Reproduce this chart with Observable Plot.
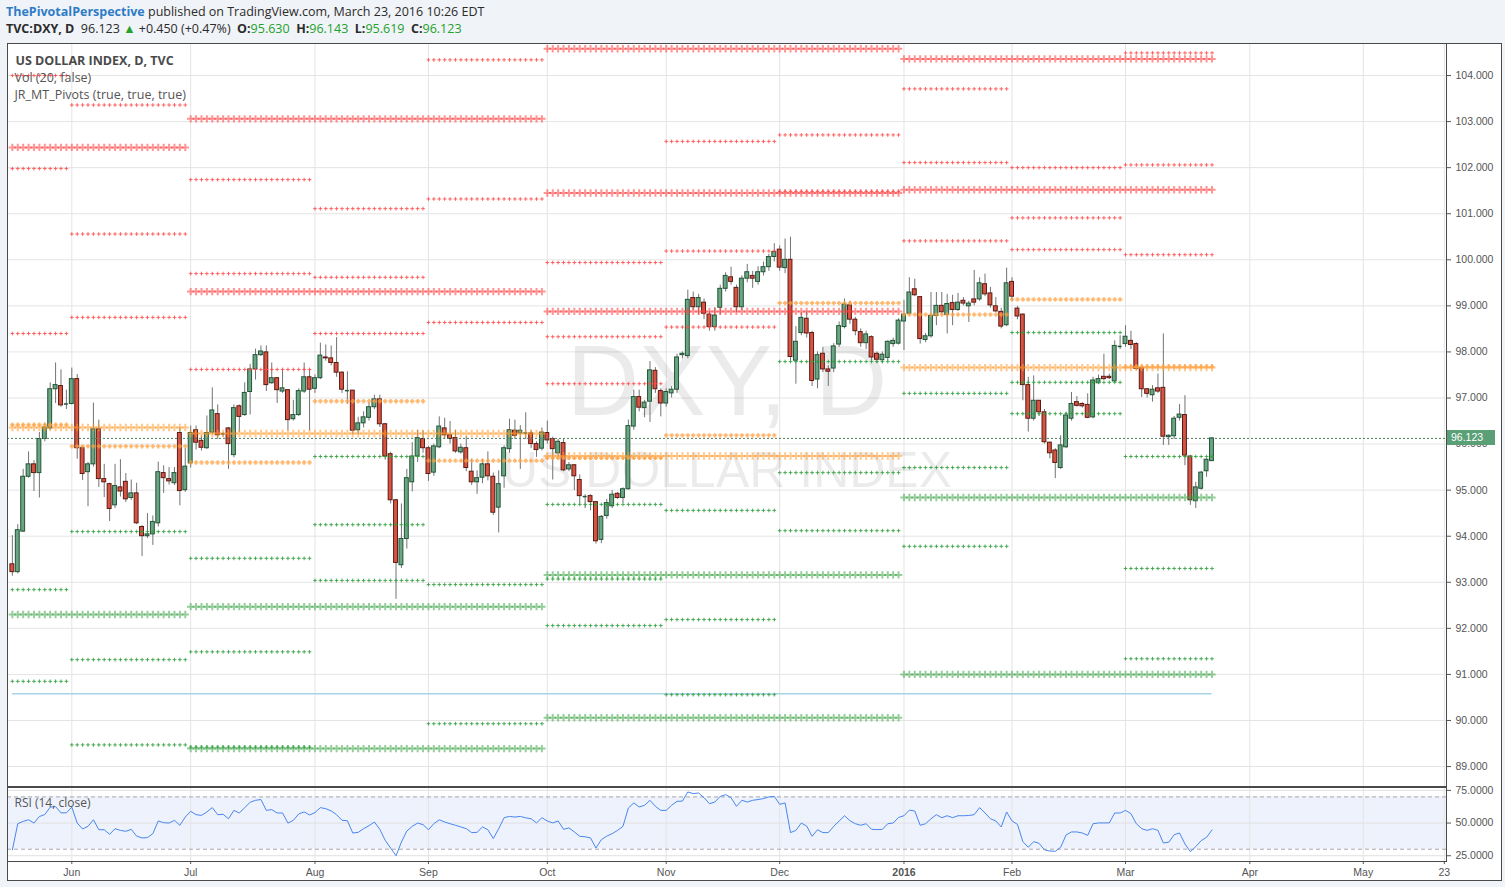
<!DOCTYPE html>
<html>
<head>
<meta charset="utf-8">
<script src="https://cdn.jsdelivr.net/npm/d3@7"></script>
<script src="https://cdn.jsdelivr.net/npm/@observablehq/plot@0.6"></script>
<style>
html,body{margin:0;padding:0;}
body{width:1505px;height:887px;background:#f0f3f7;position:relative;overflow:hidden;font-family:"Open Sans",sans-serif;color:#2b2b2b;}
.hdr{position:absolute;left:6px;font-size:12.5px;line-height:18px;white-space:nowrap;}
#h1{top:3px;}
#h2{top:20px;}
.author{color:#2e7cc7;font-weight:bold;}
.g{color:#22a12b;}
#box{position:absolute;left:7px;top:43px;width:1495px;height:838px;background:#fff;border:1px solid #4a4a4a;box-sizing:border-box;}
#main,#rsi{position:absolute;left:0;}
#main{top:0;}
#rsi{top:786px;}
#plabel{position:absolute;left:1447px;width:48px;height:15px;background:#5b9f77;color:#fff;font:10.5px "Liberation Sans",Arial,sans-serif;line-height:15px;padding-left:4px;box-sizing:border-box;}
</style>
</head>
<body>
<div class="hdr" id="h1"><span class="author">ThePivotalPerspective</span> published on TradingView.com, March 23, 2016 10:26 EDT</div>
<div class="hdr" id="h2"><b>TVC:DXY, D</b>&nbsp; 96.123 <span class="g">&#9650;</span> +0.450 (+0.47%) &nbsp;<b>O:</b><span class="g">95.630</span> &nbsp;<b>H:</b><span class="g">96.143</span> &nbsp;<b>L:</b><span class="g">95.619</span> &nbsp;<b>C:</b><span class="g">96.123</span></div>
<div id="box"></div>
<div id="main"></div>
<div id="rsi"></div>
<div id="plabel">96.123</div>
<script>
// ---------- DATA (daily bars, 15 May 2015 .. 23 Mar 2016, weekdays) ----------
const opens = [
93.39,93.22,94.10,95.29,95.56,95.37,96.11,96.34,97.19,97.26,
96.87,96.87,97.41,95.91,95.39,95.56,96.32,95.24,95.13,94.67,
95.06,95.18,94.83,94.93,94.20,94.00,94.04,94.28,95.37,95.24,
95.15,96.24,95.00,95.58,96.30,96.07,95.91,96.25,96.65,96.22,
96.34,95.76,96.82,96.63,97.13,97.62,97.93,97.99,97.32,97.43,
97.14,97.17,96.54,96.63,97.14,97.45,97.20,97.43,97.88,97.86,
97.76,97.55,97.16,97.16,96.30,96.45,96.57,96.80,96.97,96.43,
95.78,94.78,93.37,93.94,95.17,95.73,96.11,95.91,95.38,95.93,
96.34,96.19,96.13,95.82,95.91,95.40,95.17,95.27,95.56,95.29,
94.62,95.30,95.89,96.29,96.23,96.23,96.23,96.00,95.90,96.24,
96.11,95.80,96.02,95.45,95.54,95.22,94.85,94.87,94.74,93.92,
94.44,94.65,94.92,94.83,95.02,96.38,97.02,96.78,96.92,97.59,
97.15,96.88,97.10,97.18,97.93,97.91,99.17,98.97,99.07,98.81,
98.54,98.96,99.37,99.62,99.39,98.97,99.59,99.65,99.52,99.73,
99.84,100.06,100.22,99.82,100.00,97.81,98.41,98.72,98.41,97.40,
97.96,97.62,97.64,98.16,98.54,99.01,98.70,98.43,98.19,98.32,
97.96,97.82,97.87,98.17,98.18,98.66,98.83,99.36,99.19,98.26,
98.34,98.78,99.00,98.80,99.06,98.91,99.11,98.99,99.14,99.14,
99.47,99.27,98.99,98.87,98.58,99.52,98.94,98.81,97.28,96.55,
96.94,96.69,96.03,95.86,95.48,95.93,96.55,96.91,96.87,96.85,
96.58,97.32,97.46,97.46,97.36,98.11,98.17,98.24,98.17,97.65,
97.19,97.06,97.21,97.22,96.15,96.17,96.57,96.63,95.73,94.76,
95.03,95.41,95.630];
const highs = [
94.01,94.25,95.45,95.83,95.64,96.25,96.45,97.33,97.76,97.61,
97.17,97.65,97.51,95.95,95.60,96.89,96.52,95.56,95.15,95.56,
95.66,95.36,95.22,95.15,94.23,94.49,94.44,95.61,95.53,95.49,
95.49,96.36,95.90,96.39,96.39,96.18,96.61,97.22,96.85,96.25,
96.36,96.85,96.85,97.33,97.73,98.06,98.13,98.13,97.76,97.43,
97.61,97.17,96.95,97.20,97.76,97.61,97.50,98.19,98.15,98.13,
98.31,97.57,97.57,97.16,96.58,96.70,96.90,97.06,97.06,96.45,
95.82,94.80,94.70,95.45,96.03,96.30,96.29,95.95,96.00,96.59,
96.56,96.49,96.30,96.00,96.16,95.67,95.42,95.67,95.83,95.37,
95.42,95.96,96.54,96.52,96.40,96.68,96.30,96.05,96.35,96.50,
96.15,96.10,96.10,95.60,95.55,95.33,94.90,94.90,94.74,94.45,
94.80,94.99,94.95,95.05,96.52,97.17,97.17,96.95,97.79,97.66,
97.20,97.20,97.25,97.95,98.00,99.34,99.30,99.25,99.15,98.88,
98.96,99.45,99.72,99.84,99.45,99.65,99.90,99.75,99.85,99.95,
100.12,100.35,100.30,100.45,100.49,98.55,98.85,98.88,98.45,98.00,
98.10,97.70,98.18,98.65,99.15,99.10,98.75,98.50,98.45,98.35,
98.00,98.00,98.24,98.30,98.72,99.12,99.61,99.58,99.19,98.40,
99.29,99.29,99.29,99.25,99.23,99.27,99.18,99.10,99.77,99.61,
99.69,99.40,99.18,98.95,99.82,99.61,98.99,98.83,97.45,97.48,
96.94,96.75,96.04,95.90,96.18,96.69,97.12,97.03,96.90,97.09,
97.45,97.50,97.95,97.52,98.24,98.35,98.57,98.45,98.20,97.65,
97.20,97.27,97.52,98.39,96.20,96.60,96.86,97.05,95.75,95.17,
95.41,95.68,96.143];
const lows = [
93.13,93.18,94.08,95.26,94.97,94.83,96.05,96.30,96.88,96.80,
96.75,96.85,95.67,95.21,94.64,95.50,95.06,94.84,94.32,94.60,
94.85,94.73,94.78,94.25,93.56,93.95,93.80,94.20,94.93,95.11,
95.10,94.66,94.95,95.48,95.87,95.85,95.88,96.20,96.10,96.15,
95.45,95.70,96.25,96.60,96.63,97.39,97.90,97.14,97.30,96.88,
97.10,96.29,96.50,96.60,97.10,96.29,97.10,97.40,97.80,97.70,
97.45,97.10,96.86,96.20,96.20,96.35,96.50,96.75,96.36,95.65,
94.70,92.63,93.30,93.72,94.96,95.60,95.80,95.19,95.30,95.90,
96.10,96.00,95.80,95.78,95.40,95.10,94.91,95.14,95.20,94.45,
94.07,95.04,95.80,96.10,95.45,96.10,95.90,95.71,95.85,96.00,
95.22,95.70,95.40,95.40,94.99,94.70,94.60,94.55,93.83,93.84,
94.37,94.60,94.80,94.71,95.00,96.30,96.70,96.57,96.47,97.10,
96.59,96.80,97.00,97.10,97.85,97.85,98.90,98.80,98.70,98.45,
98.45,98.80,99.30,99.45,98.85,98.90,99.50,99.38,99.45,99.65,
99.75,99.95,99.75,99.70,97.80,97.30,98.35,98.30,97.25,97.20,
97.55,97.25,97.55,98.10,98.50,98.60,98.35,98.10,98.05,97.80,
97.75,97.75,97.80,98.10,98.15,98.03,98.80,99.20,98.17,98.20,
98.30,98.57,98.80,98.39,98.57,98.88,99.00,98.64,99.00,99.10,
99.20,98.95,98.85,98.50,98.55,99.10,98.70,96.94,96.26,96.50,
96.60,96.00,95.68,95.25,95.45,95.90,96.50,96.80,96.78,96.55,
96.55,97.30,97.38,97.40,97.33,98.05,98.10,98.05,97.60,97.01,
97.00,96.91,97.10,95.97,95.97,96.10,96.50,95.53,94.67,94.60,
95.00,95.28,95.619];
const closes = [
93.22,94.13,95.29,95.56,95.37,96.11,96.36,97.19,97.28,96.84,
96.87,97.41,95.91,95.35,95.56,96.32,95.24,95.17,94.59,95.09,
94.97,94.80,94.93,94.28,94.00,94.04,94.31,95.39,95.26,95.19,
95.37,94.98,95.51,96.24,96.03,95.92,96.24,96.73,96.19,96.22,
96.00,96.78,96.59,97.11,97.62,97.93,98.01,97.28,97.43,97.17,
97.21,96.52,96.63,97.15,97.45,97.18,97.43,97.92,97.86,97.76,
97.55,97.18,97.16,96.29,96.45,96.58,96.80,96.97,96.43,95.73,
94.78,93.42,93.94,95.26,95.73,96.13,95.91,95.35,95.95,96.38,
96.19,96.11,95.84,95.92,95.48,95.17,95.26,95.56,95.30,94.51,
95.13,95.91,96.30,96.18,96.29,96.24,96.00,95.87,96.25,96.08,
95.89,96.05,95.43,95.54,95.30,94.87,94.86,94.74,93.89,94.42,
94.72,94.90,94.83,95.02,96.39,97.02,96.79,96.90,97.60,97.19,
96.88,97.13,97.18,97.88,97.96,99.13,98.97,99.17,98.83,98.54,
98.79,99.37,99.65,99.52,98.97,99.59,99.73,99.59,99.73,99.84,
100.06,100.17,99.83,100.00,97.89,98.22,98.74,98.40,97.37,97.93,
97.62,97.57,98.12,98.56,99.03,98.70,98.45,98.19,98.38,97.88,
97.83,97.94,98.22,98.24,98.68,98.81,99.29,99.23,98.28,98.34,
98.78,99.00,98.86,99.04,98.91,99.07,99.05,99.05,99.07,99.49,
99.25,99.01,98.88,98.55,99.49,99.20,98.77,97.28,96.55,96.94,
96.69,96.04,95.80,95.59,95.97,96.62,96.87,96.83,96.82,96.57,
97.38,97.41,97.41,97.43,98.13,98.12,98.33,98.15,97.63,97.19,
97.09,97.18,97.14,96.16,96.18,96.55,96.64,95.75,94.78,95.06,
95.38,95.66,96.123];
const rsiValues = [
29.5,49.5,51.3,52.5,50.0,55.0,56.5,62.2,62.6,57.8,
57.8,62.2,50.0,45.5,47.5,52.5,44.9,44.9,41.4,45.7,
44.4,43.7,45.2,40.0,38.6,38.9,41.9,51.6,50.3,50.0,
52.1,48.3,54.6,59.0,56.4,55.9,58.5,61.8,56.4,56.7,
53.3,59.7,57.7,61.8,65.9,67.4,68.0,59.7,60.3,57.7,
57.7,50.0,52.1,57.0,58.5,56.2,58.0,61.8,61.0,59.3,
56.4,52.1,51.8,42.4,42.9,45.7,48.0,50.8,45.2,36.8,
30.9,25.0,35.5,43.9,47.5,50.0,48.8,44.9,49.5,52.5,
50.8,49.5,48.3,47.0,45.7,42.7,42.9,47.0,44.9,38.1,
45.7,54.1,55.1,54.6,55.1,54.0,53.3,50.1,54.1,51.6,
50.1,51.6,45.2,46.3,43.2,39.9,39.5,38.6,30.9,37.3,
40.0,41.9,44.4,47.5,61.5,65.4,62.3,63.6,67.4,62.8,
59.7,59.7,63.6,66.6,66.8,73.8,72.5,73.0,69.4,64.8,
66.1,70.4,71.7,69.4,62.8,67.4,66.1,67.4,68.0,68.7,
70.0,70.4,64.3,65.4,42.7,44.4,50.0,47.7,39.9,44.9,
42.7,42.7,47.5,51.5,55.6,51.8,49.5,48.3,49.5,45.2,
45.0,45.2,49.5,50.0,54.3,55.6,59.9,59.2,48.3,49.5,
53.3,56.4,54.1,55.6,54.1,55.6,55.6,55.8,56.4,61.8,
57.7,53.3,51.6,47.0,58.5,51.6,49.0,35.8,31.5,35.8,
34.5,29.5,28.6,28.4,31.5,40.9,43.2,43.2,42.4,40.6,
49.5,50.1,50.1,50.1,57.7,57.7,59.7,57.2,49.5,45.7,
44.4,45.7,44.4,34.8,35.3,41.1,42.4,34.0,28.1,32.0,
36.6,39.1,44.7];

// time axis ticks (bar index of first bar of each month) and labels
const monthTickBars = [11, 33, 56, 77, 99, 121, 142, 165, 185, 206, 229, 250, 265];
const monthTickLabels = ["Jun", "Jul", "Aug", "Sep", "Oct", "Nov", "Dec", "2016", "Feb", "Mar", "Apr", "May", "23"];
const priceTicks = [89, 90, 91, 92, 93, 94, 95, 96, 97, 98, 99, 100, 101, 102, 103, 104];
const rsiTicks = [25, 50, 75];
const rsiBands = [70, 30];

// monthly pivots (JR_MT_Pivots), May 2015 .. Mar 2016
const monthFirstBar = [0, 11, 33, 56, 77, 99, 121, 142, 165, 185, 206];
const monthLastBar = [10, 32, 55, 76, 98, 120, 141, 164, 184, 205, 222];
const monthResistance = [
  [104.00, 101.98, 98.40], [103.36, 100.56, 98.75], [101.74, 99.70, 97.62], [101.11, 99.62, 98.40],
  [104.34, 101.32, 98.64], [99.94, 98.33, 97.31], [102.57, 100.19, 98.54], [102.71, 101.48],
  [103.71, 102.11, 100.41], [102.00, 100.91, 100.22], [104.49, 102.06, 100.11]];
const monthPivot = [96.42, 95.95, 95.60, 96.93, 95.64, 95.70, 96.19, 99.06, 98.81, 99.14, 97.68];
const monthSupport = [
  [92.84, 90.85], [94.10, 91.32, 89.47], [93.52, 91.49, 89.42], [95.73, 94.25, 93.04],
  [92.95, 89.93], [94.69, 93.07, 92.06], [94.56, 92.19, 90.56], [97.79, 95.38, 94.12],
  [97.10, 95.49, 93.78], [98.42, 97.34, 96.66], [95.73, 93.30, 91.34]];

// quarterly pivots Q2 2015 .. Q1 2016
const quarterFirstBar = [0, 33, 99, 165];
const quarterLastBar = [32, 98, 164, 222];
const quarterResistance = [[102.44], [103.06, 99.31], [104.58, 101.45, 98.88], [104.36, 101.52]];
const quarterPivot = [96.36, 96.23, 95.74, 97.66];
const quarterSupport = [[92.30], [92.47, 89.39], [93.16, 90.06], [94.84, 91.00]];

const lastPrice = 96.123;
const volLevel = 90.58;

// ---------- BUILD ----------
const bars = opens.map((o, i) => ({i, o, h: highs[i], l: lows[i], c: closes[i]}));
const upBars = bars.filter(d => d.c > d.o + 0.015);
const downBars = bars.filter(d => d.c < d.o - 0.015);
const dojiBars = bars.filter(d => Math.abs(d.c - d.o) <= 0.015);
const rsiRows = rsiValues.map((v, i) => ({i, v}));

function levelPoints(firsts, lasts, levels) {
  const pts = [];
  firsts.forEach((f, k) => {
    const lv = Array.isArray(levels[k]) ? levels[k] : [levels[k]];
    lv.forEach(v => { if (v == null) return; for (let b = f; b <= lasts[k]; b++) pts.push({x: b, y: v}); });
  });
  return pts;
}
const mR = levelPoints(monthFirstBar, monthLastBar, monthResistance);
const mP = levelPoints(monthFirstBar, monthLastBar, monthPivot);
const mS = levelPoints(monthFirstBar, monthLastBar, monthSupport);
const qR = levelPoints(quarterFirstBar, quarterLastBar, quarterResistance);
const qP = levelPoints(quarterFirstBar, quarterLastBar, quarterPivot);
const qS = levelPoints(quarterFirstBar, quarterLastBar, quarterSupport);

const RED = "#ff3d3d", ORANGE = "#ff9a2e", GREEN = "#3fa548";
const xDomain = [-0.9, 265.4];
const axisFont = "Liberation Sans, Arial, sans-serif";
const half = 0.36;

const thick = (data, color) => Plot.dot(data, {x: "x", y: "y", symbol: "plus", r: 2.5, stroke: color, strokeWidth: 2, strokeOpacity: 0.55});
const thin = (data, color, r, w, op) => Plot.dot(data, {x: "x", y: "y", symbol: "plus", r, stroke: color, strokeWidth: w, strokeOpacity: op});

const main = Plot.plot({
  width: 1505, height: 786,
  marginLeft: 7, marginRight: 59, marginTop: 43, marginBottom: 0,
  x: {domain: xDomain, axis: null},
  y: {domain: [88.567, 104.695], axis: null, label: null},
  style: {background: "transparent", fontFamily: axisFont, fontSize: "10.5px", color: "#555", overflow: "visible"},
  marks: [
    Plot.gridY(priceTicks, {stroke: "#e4e4e4", strokeOpacity: 1}),
    Plot.gridX(monthTickBars, {stroke: "#e4e4e4", strokeOpacity: 1}),
    Plot.text(["DXY, D"], {frameAnchor: "middle", dy: -32, text: d => d, fontSize: 100, fontFamily: axisFont, fill: "#000", fillOpacity: 0.08}),
    Plot.text(["US DOLLAR INDEX"], {frameAnchor: "middle", dy: 56, text: d => d, fontSize: 50, fontFamily: axisFont, fill: "#000", fillOpacity: 0.08}),
    Plot.ruleY([{y: volLevel, x1: 0, x2: opens.length - 1}], {y: "y", x1: "x1", x2: "x2", stroke: "#a7d3e6", strokeWidth: 1.5}),
    Plot.ruleX(bars, {x: "i", y1: "l", y2: "h", stroke: "#737375", strokeWidth: 1}),
    Plot.rect(upBars, {x1: d => d.i - half, x2: d => d.i + half, y1: "o", y2: "c", fill: "#6ba583", stroke: "#225437", strokeWidth: 1}),
    Plot.rect(downBars, {x1: d => d.i - half, x2: d => d.i + half, y1: "c", y2: "o", fill: "#d75442", stroke: "#5b1a13", strokeWidth: 1}),
    Plot.ruleY(dojiBars, {y: "c", x1: d => d.i - half, x2: d => d.i + half, stroke: "#225437", strokeWidth: 1.5}),
    thick(qR, RED), thick(qP, ORANGE), thick(qS, GREEN),
    thin(mR, "#ff4d4d", 1.3, 1, 0.85), thin(mP, "#ffa040", 1.5, 2, 0.75), thin(mS, "#33a03f", 1.3, 1, 0.85),
    Plot.ruleY([lastPrice], {stroke: "#4d7d5c", strokeWidth: 1, strokeDasharray: "2,2"}),
    Plot.text(["US DOLLAR INDEX, D, TVC"], {frameAnchor: "top-left", dx: 8, dy: 17, lineAnchor: "middle", text: d => d, textAnchor: "start", fontWeight: "bold", fontSize: 12.5, fontFamily: "Open Sans", fill: "#4a4a4a"}),
    Plot.text(["Vol (20, false)"], {frameAnchor: "top-left", dx: 7, dy: 34, lineAnchor: "middle", text: d => d, textAnchor: "start", fontSize: 12.5, fontFamily: "Open Sans", fill: "#555"}),
    Plot.text(["JR_MT_Pivots (true, true, true)"], {frameAnchor: "top-left", dx: 7, dy: 51, lineAnchor: "middle", text: d => d, textAnchor: "start", fontSize: 12.5, fontFamily: "Open Sans", fill: "#555"}),
    Plot.axisY(priceTicks, {anchor: "right", tickFormat: d => d.toFixed(3), tickSize: 4, tickPadding: 5, label: null, fontFamily: axisFont, fontSize: 10.5}),
    Plot.frame({stroke: "#4a4a4a"})
  ]
});
document.getElementById("main").appendChild(main);

const normalTicks = monthTickBars.filter((b, k) => monthTickLabels[k] !== "2016");
const boldTicks = monthTickBars.filter((b, k) => monthTickLabels[k] === "2016");
const labelOf = d => monthTickLabels[monthTickBars.indexOf(d)];

const rsi = Plot.plot({
  width: 1505, height: 101,
  marginLeft: 7, marginRight: 59, marginTop: 1, marginBottom: 26,
  x: {domain: xDomain, axis: null},
  y: {domain: [20.6, 77.2], axis: null, label: null},
  style: {background: "transparent", fontFamily: axisFont, fontSize: "10.5px", color: "#555", overflow: "visible"},
  marks: [
    Plot.rect([{y1: rsiBands[1], y2: rsiBands[0]}], {x1: () => xDomain[0], x2: () => xDomain[1], y1: "y1", y2: "y2", fill: "#edf2fc"}),
    Plot.gridY(rsiTicks, {stroke: "#e0e0e0", strokeOpacity: 1}),
    Plot.gridX(monthTickBars, {stroke: "#e4e4e4", strokeOpacity: 1}),
    Plot.ruleY(rsiBands, {stroke: "#a8a8a8", strokeDasharray: "4,3"}),
    Plot.line(rsiRows, {x: "i", y: "v", stroke: "#4a86ee", strokeWidth: 1}),
    Plot.text(["RSI (14, close)"], {frameAnchor: "top-left", dx: 7, dy: 16, lineAnchor: "middle", text: d => d, textAnchor: "start", fontSize: 12, fontFamily: "Open Sans", fill: "#555"}),
    Plot.axisY(rsiTicks, {anchor: "right", tickFormat: d => d.toFixed(4), tickSize: 4, tickPadding: 5, label: null, fontFamily: axisFont, fontSize: 10.5}),
    Plot.axisX(normalTicks, {anchor: "bottom", tickFormat: labelOf, tickSize: 3, tickPadding: 4, label: null, fontFamily: axisFont, fontSize: 10.5}),
    Plot.axisX(boldTicks, {anchor: "bottom", tickFormat: labelOf, tickSize: 3, tickPadding: 4, label: null, fontFamily: axisFont, fontSize: 10.5, fontWeight: "bold"}),
    Plot.frame({stroke: "#4a4a4a"})
  ]
});
document.getElementById("rsi").appendChild(rsi);

const yPix = main.scale("y").apply(lastPrice);
document.getElementById("plabel").style.top = (yPix - 7.5) + "px";
</script>
</body>
</html>
